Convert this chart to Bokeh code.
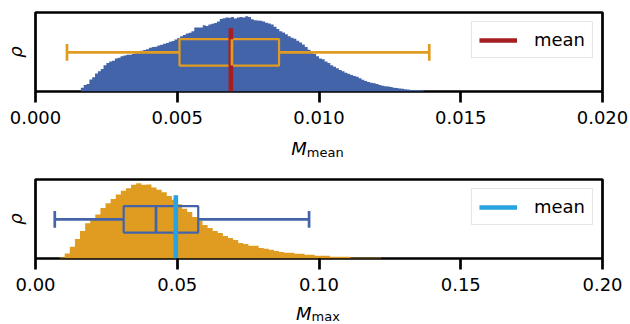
import numpy as np
from bokeh.plotting import figure
from bokeh.layouts import column
from bokeh.models import Range1d, FixedTicker, Div
from bokeh.embed import file_html
from bokeh.resources import INLINE

# ---------------- data ----------------
# M_mean histogram (density, normalised to the peak)
mmean_hist_start = 0.0016
mmean_hist_width = 0.0001
mmean_density = [
    0.05, 0.085, 0.10, 0.16, 0.19, 0.24, 0.27, 0.30, 0.35, 0.38,
    0.40, 0.41, 0.44, 0.45, 0.47, 0.48, 0.49, 0.49, 0.50, 0.51,
    0.52, 0.54, 0.55, 0.56, 0.58, 0.59, 0.595, 0.61, 0.62, 0.635,
    0.645, 0.66, 0.67, 0.69, 0.71, 0.735, 0.75, 0.77, 0.78, 0.80,
    0.85, 0.85, 0.85, 0.88, 0.87, 0.89, 0.90, 0.91, 0.93, 0.965,
    0.975, 0.985, 0.98, 0.99, 0.97, 0.985, 0.99, 0.985, 1.0, 0.99,
    0.96, 0.948, 0.945, 0.94, 0.93, 0.915, 0.905, 0.89, 0.86, 0.83,
    0.80, 0.785, 0.76, 0.735, 0.715, 0.70, 0.675, 0.65, 0.625, 0.59,
    0.555, 0.53, 0.50, 0.47, 0.44, 0.43, 0.40, 0.38, 0.35, 0.33,
    0.31, 0.285, 0.27, 0.25, 0.235, 0.22, 0.205, 0.195, 0.175, 0.155,
    0.14, 0.125, 0.115, 0.11, 0.10, 0.085, 0.078, 0.07, 0.065, 0.06,
    0.05, 0.046, 0.04, 0.035, 0.03, 0.025, 0.02, 0.02, 0.02, 0.02,
    0.015,
]
mmean_whisker_low = 0.00111
mmean_q1 = 0.00508
mmean_median = 0.00693
mmean_q3 = 0.00859
mmean_whisker_high = 0.01389
mmean_mean = 0.00689

# M_max histogram
mmax_hist_start = 0.0085
mmax_hist_width = 0.0018
mmax_density = [
    0.013, 0.066, 0.155, 0.26, 0.366, 0.47, 0.53, 0.585, 0.67, 0.735,
    0.79, 0.85, 0.90, 0.935, 0.98, 1.0, 0.98, 0.985, 0.945, 0.915,
    0.88, 0.83, 0.78, 0.72, 0.66, 0.617, 0.55, 0.50, 0.445, 0.405,
    0.366, 0.34, 0.30, 0.273, 0.247, 0.207, 0.194, 0.168, 0.168, 0.141,
    0.128, 0.115, 0.10, 0.088, 0.075, 0.075, 0.062, 0.062, 0.049, 0.049,
    0.036, 0.036, 0.036, 0.022, 0.022, 0.022, 0.022, 0.01, 0.01, 0.01,
    0.01, 0.01, 0.01,
]
mmax_whisker_low = 0.0068
mmax_q1 = 0.0311
mmax_median = 0.0425
mmax_q3 = 0.0574
mmax_whisker_high = 0.0965
mmax_mean = 0.0495

mmean_ticks = [0.0, 0.005, 0.01, 0.015, 0.02]
mmean_tick_labels = ["0.000", "0.005", "0.010", "0.015", "0.020"]
mmax_ticks = [0.0, 0.05, 0.1, 0.15, 0.2]
mmax_tick_labels = ["0.00", "0.05", "0.10", "0.15", "0.20"]

legend_text = "mean"
ylabel_text = "ρ"
xlabel_main = "M"
mmean_sub = "mean"
mmax_sub = "max"

# ---------------- style ----------------
BLUE = "#4464AA"
ORANGE = "#E09C20"
RED = "#A51E22"
CYAN = "#28A2E0"
FONT = "DejaVu Sans"

W = 630
LEFT, RIGHT = 35, 28
FRAME_H = 79
BOTTOM = 48
Y_TOP = 1.05
BOX_C, BOX_H, CAP_H, MEAN_TOP = 0.52, 0.175, 0.11, 0.84


def panel(top_border, xmax, ticks, tick_labels, start, width, dens,
          face, box_color, stats, mean_color, median_on_top):
    wl, q1, med, q3, wh, mu = stats
    height = top_border + FRAME_H + BOTTOM
    p = figure(width=W, height=height, output_backend="svg",
               toolbar_location=None, min_border_left=LEFT,
               min_border_right=RIGHT, min_border_top=top_border,
               min_border_bottom=BOTTOM, margin=0,
               x_range=Range1d(0, xmax), y_range=Range1d(0, Y_TOP))
    p.grid.visible = False
    p.outline_line_color = "black"
    p.outline_line_width = 2.7
    p.outline_line_alpha = 1.0
    p.background_fill_color = "white"
    p.border_fill_color = "white"

    edges = start + width * np.arange(len(dens) + 1)
    p.varea_step(x=edges, y1=np.zeros(len(edges)),
                 y2=list(dens) + [dens[-1]], step_mode="after",
                 fill_color=face)

    p.quad(left=[q1], right=[q3], bottom=[BOX_C - BOX_H], top=[BOX_C + BOX_H],
           fill_color=None, line_color=box_color, line_width=2.2)

    def draw_median():
        p.segment(x0=[med], y0=[BOX_C - BOX_H], x1=[med], y1=[BOX_C + BOX_H],
                  line_color=box_color, line_width=2.7)

    if not median_on_top:
        draw_median()
    p.segment(x0=[wl, q3], y0=[BOX_C, BOX_C], x1=[q1, wh], y1=[BOX_C, BOX_C],
              line_color=box_color, line_width=2.7)
    p.segment(x0=[wl, wh], y0=[BOX_C - CAP_H] * 2, x1=[wl, wh],
              y1=[BOX_C + CAP_H] * 2, line_color=box_color, line_width=2.7)
    p.segment(x0=[mu], y0=[0], x1=[mu], y1=[MEAN_TOP], line_color=mean_color,
              line_width=4.6, legend_label=legend_text)
    if median_on_top:
        draw_median()

    ax = p.xaxis[0]
    ax.ticker = FixedTicker(ticks=ticks)
    ax.major_label_overrides = dict(zip(ticks, tick_labels))
    ax.axis_line_color = None
    ax.major_tick_line_color = "black"
    ax.major_tick_line_width = 2.7
    ax.major_tick_in = 0
    ax.major_tick_out = 11
    ax.minor_tick_line_color = None
    ax.major_label_text_font = FONT
    ax.major_label_text_font_size = "18px"
    ax.major_label_text_color = "black"
    ax.major_label_standoff = 8

    ay = p.yaxis[0]
    ay.ticker = FixedTicker(ticks=[])
    ay.axis_line_color = None
    ay.major_tick_line_color = None
    ay.minor_tick_line_color = None
    ay.major_tick_out = 0
    ay.major_tick_in = 0
    ay.major_label_standoff = 0
    ay.axis_label = ylabel_text
    ay.axis_label_standoff = 10
    ay.axis_label_text_font = FONT
    ay.axis_label_text_font_style = "italic"
    ay.axis_label_text_font_size = "18px"
    ay.axis_label_text_color = "black"

    lg = p.legend[0]
    lg.location = "top_right"
    lg.margin = 9
    lg.padding = 7
    lg.spacing = 0
    lg.glyph_width = 38
    lg.glyph_height = 20
    lg.label_standoff = 17
    lg.label_text_font = FONT
    lg.label_text_font_size = "18px"
    lg.label_text_color = "black"
    lg.border_line_color = "#cccccc"
    lg.border_line_width = 1.6
    lg.background_fill_alpha = 0.8
    return p


def xlabel(sub, height, pad_left, pad_top, line_h, sub_drop):
    html = (
        f'<div style="width:{W}px;height:{height}px;box-sizing:border-box;'
        f'margin:0;padding-left:{pad_left}px;padding-top:{pad_top}px;'
        f'text-align:center;font-family:\'{FONT}\';font-size:18px;'
        f'line-height:{line_h}px;color:black;white-space:nowrap;'
        f'overflow:visible;">'
        f'<i>{xlabel_main}</i><span style="font-size:13px;position:relative;'
        f'top:{sub_drop}px;">{sub}</span></div>'
    )
    return Div(text=html, width=W, height=height, margin=0)


top = panel(12, 0.02, mmean_ticks, mmean_tick_labels, mmean_hist_start,
            mmean_hist_width, mmean_density, BLUE, ORANGE,
            (mmean_whisker_low, mmean_q1, mmean_median, mmean_q3,
             mmean_whisker_high, mmean_mean), RED, True)
top_label = xlabel(mmean_sub, 26, 5, 1, 18, 2)
bot = panel(14, 0.2, mmax_ticks, mmax_tick_labels, mmax_hist_start,
            mmax_hist_width, mmax_density, ORANGE, BLUE,
            (mmax_whisker_low, mmax_q1, mmax_median, mmax_q3,
             mmax_whisker_high, mmax_mean), CYAN, False)
bot_label = xlabel(mmax_sub, 18, 6, 0, 15, 1)

layout = column(top, top_label, bot, bot_label, spacing=0)
open("out.html", "w").write(file_html(layout, INLINE))
